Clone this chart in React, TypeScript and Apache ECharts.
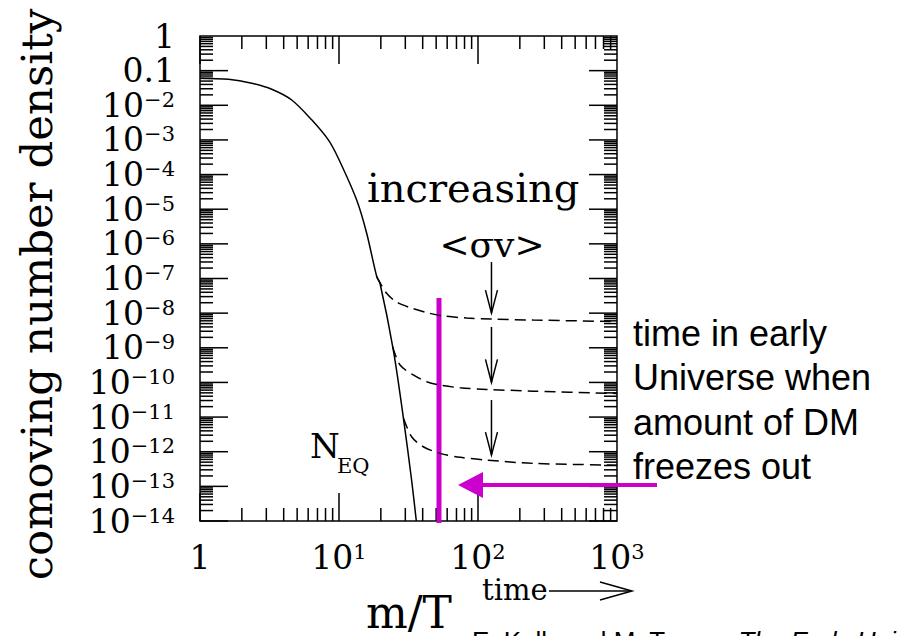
import React, { useEffect, useRef } from 'react';
import * as echarts from 'echarts';

// ---- data ----
// equilibrium curve N_EQ (m/T, comoving number density)
const eqX = [1, 1.6, 2.36, 3.28, 4.57, 6.36, 8.38, 9.89, 13.4, 15.8, 18.7, 19.7, 24.6, 29.0, 33.3, 36.0];
const eqY = [6.0e-2, 5.6e-2, 4.3e-2, 2.9e-2, 1.42e-2, 3.8e-3, 1.0e-3, 2.95e-4, 1.84e-5, 2.06e-6, 1.12e-7, 7.4e-8, 8.6e-10, 1.0e-11, 1.5e-13, 1.0e-14];
// freeze-out curves (dashed), increasing <sigma v> from top to bottom
const fo1X = [18.7, 22.0, 26.0, 32.4, 42.8, 53.3, 82.9, 125, 250, 1000];
const fo1Y = [1.12e-7, 3.73e-8, 2.09e-8, 1.45e-8, 1.04e-8, 8.53e-9, 7.23e-9, 6.76e-9, 6.32e-9, 5.73e-9];
const fo2X = [24.3, 27.5, 34.2, 42.8, 53.3, 74.3, 115.5, 250, 1000];
const fo2Y = [1.07e-9, 3.18e-10, 1.64e-10, 1.05e-10, 8.4e-11, 7.0e-11, 6.3e-11, 5.6e-11, 4.8e-11];
const fo3X = [29.1, 33.3, 40.4, 53.3, 74.3, 115.5, 250, 1000];
const fo3Y = [9.2e-12, 2.7e-12, 1.39e-12, 8.97e-13, 6.9e-13, 5.75e-13, 4.6e-13, 4.1e-13];
// black arrows: x, start, end
const arrowX = [125, 125, 125];
const arrowFrom = [3.0e-7, 4.0e-9, 3.1e-11];
const arrowTo = [1.0e-8, 1.0e-10, 8.0e-13];
// magenta freeze-out marker
const markX = [52.4];
const markTop = [2.75e-8];
const markBottom = [8.7e-15];
// magenta pointer: tip x, level, tail x
const pointerTipX = [71.8];
const pointerY = [1.1e-13];
const pointerTailX = [1940];

// axis tick labels
const xTickLabels = ['1', '10^1', '10^2', '10^3']; // exponent 0..3
const yTickLabels = ['1', '0.1', '10^−2', '10^−3', '10^−4', '10^−5', '10^−6', '10^−7', '10^−8', '10^−9', '10^−10', '10^−11', '10^−12', '10^−13', '10^−14']; // exponent 0..-14

const yAxisName = 'comoving number density';
const xAxisName = 'm/T';
const noteLines = ['time in early', 'Universe when', 'amount of DM', 'freezes out'];

const serif = '"DejaVu Serif", serif';
const sans = '"Liberation Sans", Arial, sans-serif';
const magenta = '#cc00cc';

function rich(s: string) {
  const [b, sup] = s.split('^');
  return sup ? `{b|${b}}{s|${sup}}` : `{b|${b}}`;
}

const pairs = (xs: number[], ys: number[]) => xs.map((x, i) => [x, ys[i]]);

// tick positions for the log axes (2..9 minors, decades major)
const xTicks: number[][] = [];
for (let e = 0; e < 3; e++) {
  for (let m = 1; m <= 9; m++) {
    const v = m * Math.pow(10, e);
    xTicks.push([v, 1, m === 1 ? 28 : 13]);
  }
}
const yTicks: number[][] = [];
for (let e = -14; e < 0; e++) {
  for (let m = 1; m <= 9; m++) {
    const v = m * Math.pow(10, e);
    yTicks.push([1, v, m === 1 ? 28 : 13]);
  }
}

const tickStyle = { stroke: '#000', lineWidth: 1.5 };

export default function App() {
  const ref = useRef<HTMLDivElement>(null);
  useEffect(() => {
    const chart = echarts.init(ref.current!, null, { renderer: 'svg' });
    const labelRich = {
      b: { fontFamily: serif, fontSize: 33, lineHeight: 36, color: '#000' },
      s: { fontFamily: serif, fontSize: 21, lineHeight: 21, color: '#000', padding: [0, 0, 11, 0] },
    };
    const option: any = {
      animation: false,
      backgroundColor: '#fff',
      grid: {
        left: 200, top: 36, width: 417, height: 485,
        show: true, borderColor: '#000', borderWidth: 1.5,
        containLabel: false, outerBoundsMode: 'none',
      },
      xAxis: {
        type: 'log', logBase: 10, min: 1, max: 1000, interval: 1,
        axisLine: { show: false }, axisTick: { show: false }, splitLine: { show: false },
        axisLabel: {
          margin: 18, color: '#000', fontFamily: serif, fontSize: 33, rich: labelRich,
          formatter: (v: number) => rich(xTickLabels[Math.round(Math.log10(v))] ?? ''),
        },
      },
      yAxis: {
        type: 'log', logBase: 10, min: 1e-14, max: 1, interval: 1,
        axisLine: { show: false }, axisTick: { show: false }, splitLine: { show: false },
        axisLabel: {
          margin: 25, color: '#000', fontFamily: serif, fontSize: 33, rich: labelRich,
          formatter: (v: number) => rich(yTickLabels[-Math.round(Math.log10(v))] ?? ''),
        },
      },
      series: [
        {
          type: 'line', data: pairs(eqX, eqY), symbol: 'none', smooth: 0.3, clip: true, silent: true,
          lineStyle: { color: '#000', width: 1.5 },
        },
        ...[pairs(fo1X, fo1Y), pairs(fo2X, fo2Y), pairs(fo3X, fo3Y)].map((d) => ({
          type: 'line', data: d, symbol: 'none', smooth: 0.3, clip: true, silent: true,
          lineStyle: { color: '#000', width: 1.5, type: [11, 6] },
        })),
        {
          type: 'custom', data: xTicks, encode: { x: 0, y: 1 }, silent: true, clip: false,
          renderItem: (params: any, api: any) => {
            const cs = params.coordSys;
            const px = api.coord([api.value(0), 1])[0];
            const len = api.value(2);
            const top = cs.y, bot = cs.y + cs.height;
            return {
              type: 'group', children: [
                { type: 'line', shape: { x1: px, y1: bot, x2: px, y2: bot - len }, style: tickStyle },
                { type: 'line', shape: { x1: px, y1: top, x2: px, y2: top + len }, style: tickStyle },
              ],
            };
          },
        },
        {
          type: 'custom', data: yTicks, encode: { x: 0, y: 1 }, silent: true, clip: false,
          renderItem: (params: any, api: any) => {
            const cs = params.coordSys;
            const py = api.coord([1, api.value(1)])[1];
            const len = api.value(2);
            const l = cs.x, r = cs.x + cs.width;
            return {
              type: 'group', children: [
                { type: 'line', shape: { x1: l, y1: py, x2: l + len, y2: py }, style: tickStyle },
                { type: 'line', shape: { x1: r, y1: py, x2: r - len, y2: py }, style: tickStyle },
              ],
            };
          },
        },
        {
          type: 'custom', data: arrowX.map((x, i) => [x, arrowFrom[i], arrowTo[i]]),
          encode: { x: 0, y: [1, 2] }, silent: true, clip: false,
          renderItem: (params: any, api: any) => {
            const p1 = api.coord([api.value(0), api.value(1)]);
            const p2 = api.coord([api.value(0), api.value(2)]);
            return {
              type: 'group', children: [
                { type: 'line', shape: { x1: p1[0], y1: p1[1], x2: p2[0], y2: p2[1] }, style: tickStyle },
                {
                  type: 'polyline',
                  shape: { points: [[p2[0] - 6, p2[1] - 23], [p2[0], p2[1]], [p2[0] + 6, p2[1] - 23]] },
                  style: { stroke: '#000', lineWidth: 1.5, fill: 'none' },
                },
              ],
            };
          },
        },
        {
          type: 'custom', data: markX.map((x, i) => [x, markTop[i], markBottom[i]]),
          encode: { x: 0, y: [1, 2] }, silent: true, clip: false,
          renderItem: (params: any, api: any) => {
            const p1 = api.coord([api.value(0), api.value(1)]);
            const p2 = api.coord([api.value(0), api.value(2)]);
            return {
              type: 'line', shape: { x1: p1[0], y1: p1[1], x2: p2[0], y2: p2[1] },
              style: { stroke: magenta, lineWidth: 5 },
            };
          },
        },
        {
          type: 'custom', data: pointerTipX.map((x, i) => [x, pointerY[i], pointerTailX[i]]),
          encode: { x: [0, 2], y: 1 }, silent: true, clip: false,
          renderItem: (params: any, api: any) => {
            const tip = api.coord([api.value(0), api.value(1)]);
            const tail = api.coord([api.value(2), api.value(1)]);
            return {
              type: 'group', children: [
                { type: 'line', shape: { x1: tail[0], y1: tail[1], x2: tip[0] + 20, y2: tip[1] }, style: { stroke: magenta, lineWidth: 4 } },
                {
                  type: 'polygon',
                  shape: { points: [[tip[0], tip[1]], [tip[0] + 25, tip[1] - 13], [tip[0] + 25, tip[1] + 13]] },
                  style: { fill: magenta },
                },
              ],
            };
          },
        },
      ],
      graphic: [
        {
          type: 'text', x: 37, y: 294.5, rotation: Math.PI / 2,
          style: { text: yAxisName, fontFamily: serif, fontSize: 43.5, fill: '#000', align: 'center', verticalAlign: 'middle' },
        },
        {
          type: 'text', x: 409, y: 612,
          style: { text: xAxisName, fontFamily: serif, fontSize: 44, fill: '#000', align: 'center', verticalAlign: 'middle' },
        },
        {
          type: 'text', x: 367, y: 188,
          style: { text: 'increasing', fontFamily: serif, fontSize: 40, fill: '#000', align: 'left', verticalAlign: 'middle' },
        },
        {
          type: 'text', x: 492, y: 244,
          style: { text: '<σv>', fontFamily: serif, fontSize: 36, fill: '#000', align: 'center', verticalAlign: 'middle' },
        },
        {
          type: 'text', x: 310, y: 446,
          style: { text: 'N', fontFamily: serif, fontSize: 34, fill: '#000', align: 'left', verticalAlign: 'middle' },
        },
        {
          type: 'text', x: 337, y: 466,
          style: { text: 'EQ', fontFamily: serif, fontSize: 21, fill: '#000', align: 'left', verticalAlign: 'middle' },
        },
        {
          type: 'text', x: 482, y: 590,
          style: { text: 'time', fontFamily: serif, fontSize: 29, fill: '#000', align: 'left', verticalAlign: 'middle' },
        },
        { type: 'line', shape: { x1: 549, y1: 591, x2: 631, y2: 591 }, style: { stroke: '#000', lineWidth: 1.5 } },
        {
          type: 'polyline', shape: { points: [[600, 582], [632, 591], [600, 600]] },
          style: { stroke: '#000', lineWidth: 1.5, fill: 'none' },
        },
        ...noteLines.map((t, i) => ({
          type: 'text', x: 633, y: 333 + i * 44.5,
          style: { text: t, fontFamily: sans, fontSize: 36, fill: '#000', align: 'left', verticalAlign: 'middle' },
        })),
        {
          type: 'text', x: 472, y: 641,
          style: {
            text: 'E. Kolb and M. Turner, {i|The Early Universe}', fontFamily: sans, fontSize: 26, fill: '#000',
            align: 'left', verticalAlign: 'middle',
            rich: { i: { fontFamily: sans, fontSize: 26, fontStyle: 'italic', fill: '#000' } },
          },
        },
      ],
    };
    chart.setOption(option);
    return () => chart.dispose();
  }, []);
  return (
    <div
      ref={ref}
      style={{ position: 'absolute', left: 0, top: 0, width: 897, height: 636, overflow: 'hidden', background: '#fff' }}
    />
  );
}
